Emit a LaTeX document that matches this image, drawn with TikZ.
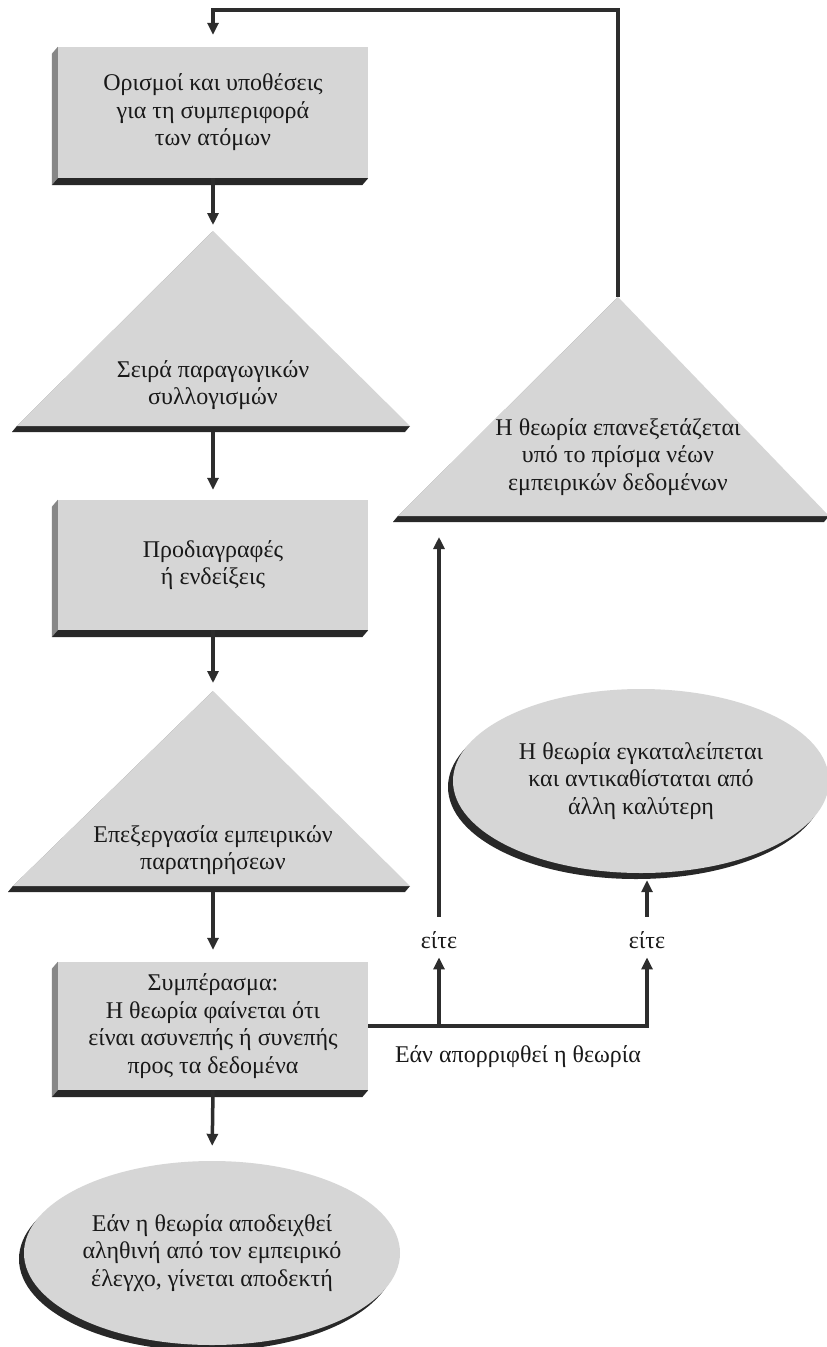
\documentclass[tikz,border=0pt]{standalone}
\usepackage{fontspec}
\setmainfont{Liberation Serif}
\usetikzlibrary{shapes.geometric,arrows.meta,shadows,calc}
\definecolor{facegray}{RGB}{214,214,214}
\definecolor{sidegray}{RGB}{135,135,135}
\definecolor{shadowdark}{RGB}{40,40,40}
\definecolor{linedark}{RGB}{45,45,45}
\newcommand{\sidesof}[1]{%
  \fill[sidegray] (#1.north west) -- ++(-6,7) -- ([shift={(-6,7)}]#1.south west) -- (#1.south west) -- cycle;
  \fill[shadowdark] (#1.south west) -- ++(-6,7) -- ([shift={(-6,7)}]#1.south east) -- (#1.south east) -- cycle;}
\newcommand{\solidtri}[3]{% apex, base left, base right
  \fill[sidegray] #1 -- ++(-5,6) -- ($#2+(-5,6)$) -- #2 -- cycle;
  \fill[shadowdark] #2 -- ++(-5,6) -- ($#3+(-5,6)$) -- #3 -- cycle;
  \fill[facegray] #1 -- #2 -- #3 -- cycle;}
\begin{document}
\begin{tikzpicture}[x=1pt,y=-1pt,
  lbl/.style={font=\fontsize{24}{27.5}\selectfont, align=center, text=black!90},
  rbox/.style={fill=facegray, lbl, rectangle, minimum width=310pt, inner sep=0pt},
  oval/.style={fill=facegray, lbl, ellipse, minimum width=376pt, minimum height=184pt, inner sep=0pt,
    drop shadow={shadow xshift=-5pt, shadow yshift=-6pt, opacity=1, fill=shadowdark}},
  plain/.style={lbl, inner sep=0pt},
  arr/.style={draw=linedark, line width=3.5pt, -{Triangle[width=11pt,length=12pt]}},
]
\fill[white] (0,0) rectangle (827,1347);
\useasboundingbox (0,0) rectangle (827,1347);

% boxes
\node[rbox, minimum height=131pt] (b1) at (213,112.5) {Ορισμοί και υποθέσεις\\για τη συμπεριφορά\\των ατόμων};
\sidesof{b1}
\node[rbox, minimum height=130pt] (b2) at (213,565) {Προδιαγραφές\\ή ενδείξεις};
\sidesof{b2}
\node[rbox, minimum height=128pt] (b3) at (213,1026) {Συμπέρασμα:\\Η θεωρία φαίνεται ότι\\είναι ασυνεπής ή συνεπής\\προς τα δεδομένα};
\sidesof{b3}

% triangles
\solidtri{(213,231)}{(17,426)}{(410,426)}
\coordinate (t1top) at (213,231);
\coordinate (t1bot) at (213,432);
\node[plain] (t1) at (213,385) {Σειρά παραγωγικών\\συλλογισμών};

\solidtri{(213,691)}{(13,886)}{(410,886)}
\coordinate (t2top) at (213,691);
\coordinate (t2bot) at (213,892);
\node[plain] (t2) at (213,850) {Επεξεργασία εμπειρικών\\παρατηρήσεων};

\solidtri{(618,297)}{(398,516)}{(829,516)}
\coordinate (t3top) at (618,297);
\coordinate (t3bot) at (618,522);
\node[plain] (t3) at (618,457) {Η θεωρία επανεξετάζεται\\υπό το πρίσμα νέων\\εμπειρικών δεδομένων};

% ellipses
\node[oval] (eR) at (641,781) {Η θεωρία εγκαταλείπεται\\και αντικαθίσταται από\\άλλη καλύτερη};
\node[oval] (eB) at (212,1253) {Εάν η θεωρία αποδειχθεί\\αληθινή από τον εμπειρικό\\έλεγχο, γίνεται αποδεκτή};

% labels
\node[plain, anchor=base] (eitL) at (439,948) {είτε};
\node[plain, anchor=base] (eitR) at (647,948) {είτε};
\node[plain] (rej) at (518,1057) {Εάν απορριφθεί η θεωρία};

% connectors
\draw[arr, shorten >=12pt] (t3top) -- ++(0,-287) -| (b1.north);
\draw[arr, shorten >=6pt] (b1.south) -- (t1top);
\draw[arr, shorten >=10pt] (t1bot) -- (b2.north);
\draw[arr, shorten >=8pt] (b2.south) -- (t2top);
\draw[arr, shorten >=12pt] (t2bot) -- (b3.north);
\draw[arr, shorten >=15pt] (b3.south) -- (eB.north);
\draw[arr, shorten >=9pt] (b3.east) -| (eitR.south);
\draw[arr, shorten >=9pt] (b3.east -| eitL) -- (eitL.south);
\draw[arr, shorten <=14pt, shorten >=15pt] (eitL.north) -- (eitL |- t3bot);
\draw[arr, shorten <=14pt, shorten >=7pt] (eitR.north) -- (eitR |- eR.south);
\end{tikzpicture}
\end{document}
